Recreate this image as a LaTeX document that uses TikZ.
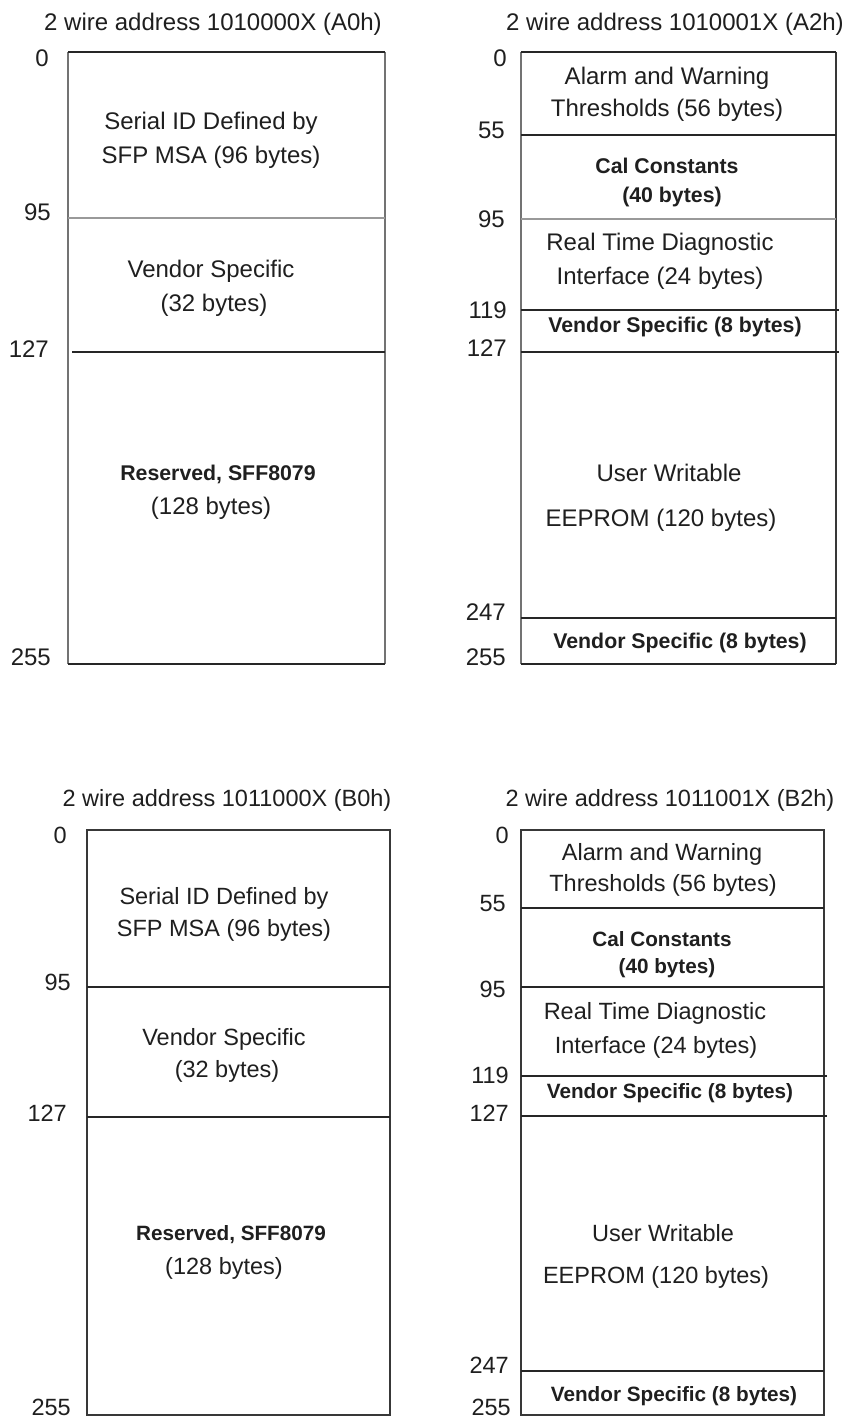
\documentclass[tikz,border=0pt]{standalone}
\usepackage{fontspec}
\setmainfont{Liberation Sans}
\begin{document}
\begin{tikzpicture}[x=1pt, y=-1pt,
  frame/.style={draw=black!78, line width=1.6pt},
  sideline/.style={draw=black!55, line width=1.4pt},
  softline/.style={draw=black!40, line width=1.1pt},
  hardline/.style={draw=black!85, line width=1.5pt},
  txt/.style={inner sep=0pt, text depth=0pt, anchor=center, text=black!88},
  regA/.style={txt, font=\fontsize{24}{28}\selectfont, text height=17.2pt},
  bldA/.style={txt, font=\bfseries\fontsize{21.3}{25}\selectfont, text height=15.3pt},
  regB/.style={txt, font=\fontsize{23.5}{28}\selectfont, text height=16.8pt},
  bldB/.style={txt, font=\bfseries\fontsize{20.7}{25}\selectfont, text height=14.8pt},
  numA/.style={regA, anchor=east},
  numB/.style={regB, anchor=east}]
\useasboundingbox[fill=white] (0,0) rectangle (850,1419);

% ---------- A0h : serial ID page ----------
\node[regA] (tA0) at (213,22) {2 wire address 1010000X (A0h)};
\draw[sideline] (68,52) -- (68,664);
\draw[sideline] (385,52) -- (385,664);
\draw[hardline] (68,52) -- (385,52);
\draw[hardline] (68,664) -- (385,664);
\draw[softline] (68,218) -- (385,218);
\draw[hardline] (72,352) -- (385,352);
\node[numA] (a0n0) at (49,58) {0};
\node[numA] (a0n95) at (51,212) {95};
\node[numA] (a0n127) at (49,349) {127};
\node[numA] (a0n255) at (51,657) {255};
\node[regA] (a0s1) at (211,121) {Serial ID Defined by};
\node[regA] (a0s2) at (211,155) {SFP MSA (96 bytes)};
\node[regA] (a0v1) at (211,269) {Vendor Specific};
\node[regA] (a0v2) at (214,303) {(32 bytes)};
\node[bldA] (a0r1) at (218,473) {Reserved, SFF8079};
\node[regA] (a0r2) at (211,506) {(128 bytes)};

% ---------- A2h : diagnostics page ----------
\node[regA] (tA2) at (675,22) {2 wire address 1010001X (A2h)};
\draw[sideline] (521,52) -- (521,664);
\draw[frame] (836,52) -- (836,664);
\draw[hardline] (521,52) -- (836,52);
\draw[hardline] (521,664) -- (836,664);
\draw[hardline] (521,135) -- (836,135);
\draw[softline] (521,219) -- (836,219);
\draw[hardline] (521,310) -- (839,310);
\draw[hardline] (521,352) -- (839,352);
\draw[hardline] (521,618) -- (836,618);
\node[numA] (a2n0) at (507,58) {0};
\node[numA] (a2n55) at (505,130) {55};
\node[numA] (a2n95) at (505,219) {95};
\node[numA] (a2n119) at (507,310) {119};
\node[numA] (a2n127) at (507,348) {127};
\node[numA] (a2n247) at (506,612) {247};
\node[numA] (a2n255) at (506,657) {255};
\node[regA] (a2a1) at (667,76) {Alarm and Warning};
\node[regA] (a2a2) at (667,108) {Thresholds (56 bytes)};
\node[bldA] (a2c1) at (667,166) {Cal Constants};
\node[bldA] (a2c2) at (672,195) {(40 bytes)};
\node[regA] (a2d1) at (660,242) {Real Time Diagnostic};
\node[regA] (a2d2) at (660,276) {Interface (24 bytes)};
\node[bldA] (a2v1) at (675,325) {Vendor Specific (8 bytes)};
\node[regA] (a2u1) at (669,473) {User Writable};
\node[regA] (a2u2) at (661,518) {EEPROM (120 bytes)};
\node[bldA] (a2v2) at (680,641) {Vendor Specific (8 bytes)};

% ---------- B0h : serial ID page ----------
\node[regB] (tB0) at (227,798) {2 wire address 1011000X (B0h)};
\draw[frame] (87,830) rectangle (390,1415);
\draw[hardline] (87,987) -- (390,987);
\draw[hardline] (87,1117) -- (390,1117);
\node[numB] (b0n0) at (67,835) {0};
\node[numB] (b0n95) at (71,982) {95};
\node[numB] (b0n127) at (67,1113) {127};
\node[numB] (b0n255) at (71,1407) {255};
\node[regB] (b0s1) at (224,896) {Serial ID Defined by};
\node[regB] (b0s2) at (224,928) {SFP MSA (96 bytes)};
\node[regB] (b0v1) at (224,1037) {Vendor Specific};
\node[regB] (b0v2) at (227,1069) {(32 bytes)};
\node[bldB] (b0r1) at (231,1233) {Reserved, SFF8079};
\node[regB] (b0r2) at (224,1266) {(128 bytes)};

% ---------- B2h : diagnostics page ----------
\node[regB] (tB2) at (670,798) {2 wire address 1011001X (B2h)};
\draw[frame] (521,830) rectangle (824,1415);
\draw[hardline] (521,908) -- (824,908);
\draw[hardline] (521,987) -- (824,987);
\draw[hardline] (521,1076) -- (827,1076);
\draw[hardline] (521,1116) -- (827,1116);
\draw[hardline] (521,1371) -- (824,1371);
\node[numB] (b2n0) at (509,835) {0};
\node[numB] (b2n55) at (506,903) {55};
\node[numB] (b2n95) at (506,989) {95};
\node[numB] (b2n119) at (509,1075) {119};
\node[numB] (b2n127) at (509,1113) {127};
\node[numB] (b2n247) at (509,1365) {247};
\node[numB] (b2n255) at (511,1407) {255};
\node[regB] (b2a1) at (662,852) {Alarm and Warning};
\node[regB] (b2a2) at (663,883) {Thresholds (56 bytes)};
\node[bldB] (b2c1) at (662,939) {Cal Constants};
\node[bldB] (b2c2) at (667,966) {(40 bytes)};
\node[regB] (b2d1) at (655,1011) {Real Time Diagnostic};
\node[regB] (b2d2) at (656,1045) {Interface (24 bytes)};
\node[bldB] (b2v1) at (670,1091) {Vendor Specific (8 bytes)};
\node[regB] (b2u1) at (663,1233) {User Writable};
\node[regB] (b2u2) at (656,1275) {EEPROM (120 bytes)};
\node[bldB] (b2v2) at (674,1394) {Vendor Specific (8 bytes)};
\end{tikzpicture}
\end{document}
